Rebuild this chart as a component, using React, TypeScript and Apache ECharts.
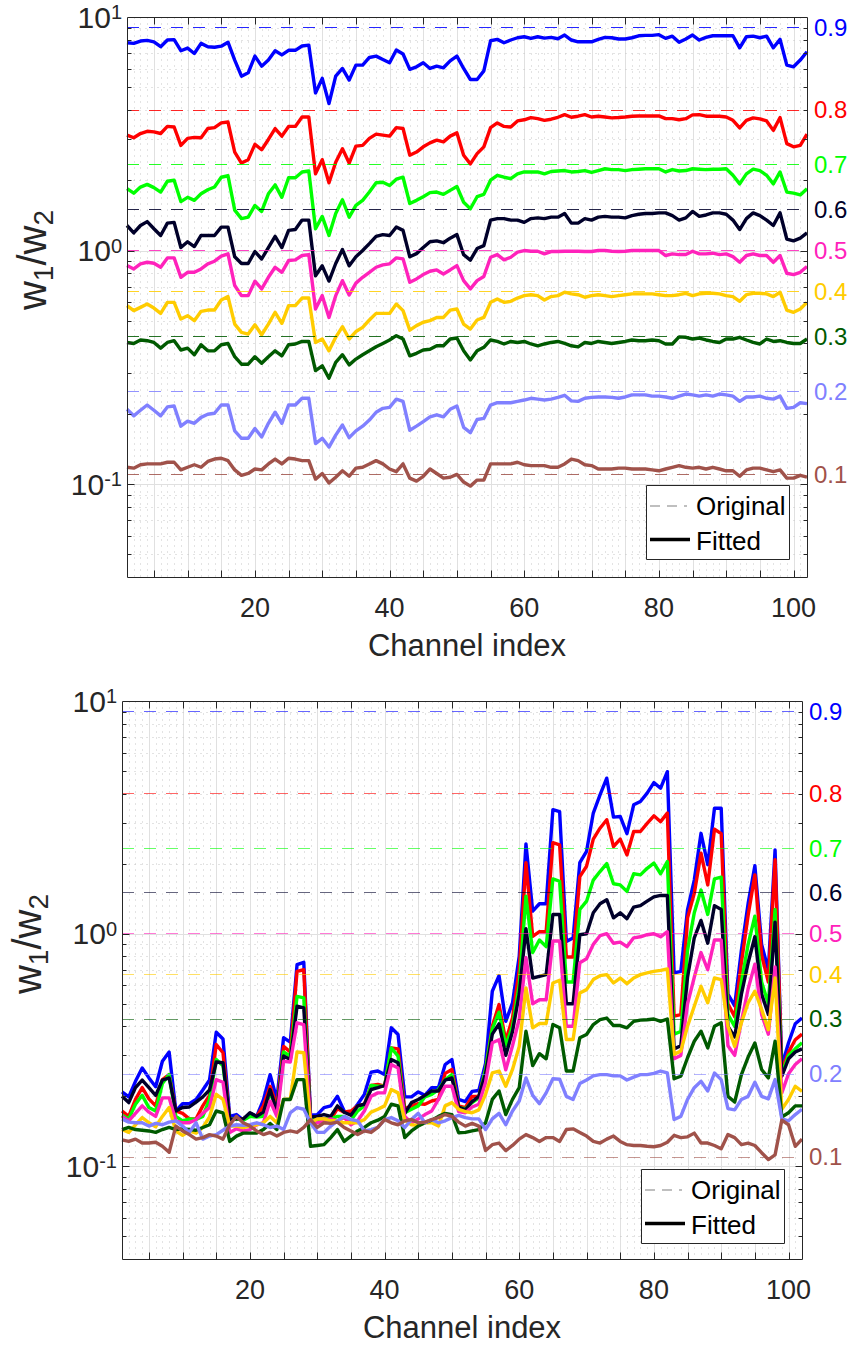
import React, { useEffect, useRef } from 'react';
import * as echarts from 'echarts';

// ---------- categories / ticks ----------
const CHANNELS: number[] = Array.from({ length: 102 }, (_, i) => i + 1);
const X_LABEL_VALUES = [20, 40, 60, 80, 100];
const X_TICKS = [5, 10, 15, 20, 25, 30, 35, 40, 45, 50, 55, 60, 65, 70, 75, 80, 85, 90, 95, 100];
const Y_MAJOR = [0.1, 1];
const Y_MINOR = [0.05, 0.06, 0.07, 0.08, 0.09, 0.2, 0.3, 0.4, 0.5, 0.6, 0.7, 0.8, 0.9, 2, 3, 4, 5, 6, 7, 8, 9];

const P_LABELS = ['0.9', '0.8', '0.7', '0.6', '0.5', '0.4', '0.3', '0.2', '0.1'];
const ORIGINAL_RATIO = [9, 4, 2.3333, 1.5, 1, 0.66667, 0.42857, 0.25, 0.11111];
const SERIES_COLORS = ['#0000ff', '#ff0000', '#00ff00', '#00002a', '#ff22bb', '#ffcc00', '#005a00', '#8080ff', '#a0524a'];

// ---------- top panel fitted values ----------
const top09 = [7.76,7.71,7.89,7.94,7.83,7.46,7.97,8.00,7.17,7.36,6.98,7.71,7.46,7.42,7.50,7.80,6.54,5.58,5.77,6.80,6.16,6.54,7.17,6.88,7.20,7.20,7.51,7.58,4.73,5.46,4.26,5.58,6.02,5.37,6.22,6.22,6.71,6.80,6.58,6.37,7.22,6.94,5.97,6.12,6.37,6.02,6.16,6.06,6.49,6.80,6.02,5.40,5.40,5.88,7.91,8.02,7.76,7.97,8.15,8.23,8.10,8.23,8.12,8.18,8.07,8.37,7.97,7.83,7.83,7.83,8.02,8.18,8.15,8.05,8.05,8.15,8.31,8.34,8.34,8.40,8.10,8.28,7.79,8.05,8.37,7.97,8.18,8.31,8.31,8.31,8.31,7.38,8.23,8.28,8.15,8.28,7.38,8.02,6.22,6.12,6.54,7.10];
const top08 = [3.12,3.04,3.17,3.24,3.22,3.17,3.40,3.38,2.82,3.02,3.05,3.04,3.33,3.36,3.52,3.55,2.64,2.37,2.45,2.85,2.70,2.99,3.33,3.09,3.40,3.40,3.73,3.73,2.13,2.45,1.95,2.39,2.73,2.37,2.80,2.82,3.02,3.15,3.12,3.09,3.36,3.33,2.56,2.64,2.78,2.89,2.97,2.92,3.09,3.19,2.56,2.35,2.60,2.78,3.36,3.52,3.40,3.38,3.59,3.63,3.71,3.67,3.61,3.65,3.72,3.82,3.72,3.76,3.82,3.73,3.76,3.73,3.70,3.71,3.73,3.76,3.77,3.77,3.77,3.77,3.67,3.67,3.63,3.67,3.81,3.82,3.76,3.76,3.76,3.73,3.61,3.35,3.61,3.70,3.66,3.59,3.27,3.71,2.87,2.78,2.82,3.15];
const top07 = [1.84,1.76,1.87,1.92,1.86,1.78,1.98,2.00,1.62,1.69,1.64,1.75,1.82,1.87,2.06,2.09,1.49,1.37,1.39,1.56,1.47,1.75,1.91,1.69,2.05,2.05,2.17,2.19,1.24,1.40,1.16,1.44,1.65,1.39,1.56,1.64,1.78,1.95,1.96,1.90,2.02,2.06,1.59,1.64,1.70,1.77,1.78,1.74,1.81,1.88,1.61,1.51,1.70,1.74,2.00,2.10,2.06,2.03,2.13,2.17,2.17,2.17,2.13,2.18,2.19,2.20,2.17,2.18,2.20,2.16,2.20,2.24,2.22,2.22,2.20,2.22,2.23,2.24,2.24,2.24,2.17,2.22,2.19,2.20,2.24,2.23,2.22,2.23,2.23,2.24,2.10,1.93,2.13,2.23,2.20,2.10,1.93,2.17,1.78,1.76,1.73,1.84];
const top06 = [1.28,1.19,1.28,1.33,1.24,1.16,1.31,1.32,1.03,1.09,1.04,1.16,1.16,1.16,1.26,1.26,0.94,0.88,0.88,0.99,0.92,1.03,1.15,1.03,1.22,1.23,1.35,1.35,0.78,0.86,0.74,0.88,1.01,0.86,0.94,1.00,1.07,1.15,1.17,1.16,1.26,1.22,0.94,0.97,1.03,1.09,1.10,1.08,1.13,1.17,0.96,0.91,1.02,1.05,1.35,1.37,1.37,1.35,1.35,1.32,1.37,1.38,1.37,1.39,1.39,1.44,1.31,1.31,1.37,1.35,1.39,1.40,1.39,1.39,1.38,1.41,1.43,1.44,1.44,1.45,1.45,1.41,1.35,1.38,1.47,1.40,1.42,1.45,1.45,1.43,1.35,1.23,1.37,1.45,1.41,1.35,1.28,1.45,1.12,1.10,1.13,1.19];
const top05 = [0.862,0.834,0.877,0.891,0.882,0.848,0.930,0.930,0.768,0.807,0.807,0.834,0.877,0.900,0.947,0.968,0.708,0.641,0.641,0.739,0.685,0.768,0.848,0.807,0.906,0.912,0.952,0.961,0.562,0.641,0.517,0.641,0.743,0.645,0.725,0.768,0.807,0.848,0.868,0.877,0.930,0.921,0.731,0.756,0.789,0.815,0.826,0.794,0.826,0.862,0.743,0.685,0.743,0.774,0.936,0.961,0.912,0.936,0.984,1.000,0.993,0.993,0.968,0.990,0.990,0.993,0.993,0.993,0.990,0.990,1.000,1.000,0.993,0.990,0.993,1.000,1.000,1.000,1.000,1.000,0.952,0.968,0.961,0.961,0.993,0.968,0.968,0.974,0.961,0.968,0.942,0.891,0.952,0.968,0.952,0.952,0.891,0.952,0.799,0.789,0.807,0.854];
const top04 = [0.581,0.553,0.571,0.590,0.567,0.538,0.600,0.600,0.509,0.526,0.501,0.549,0.556,0.556,0.614,0.635,0.484,0.446,0.439,0.481,0.436,0.484,0.544,0.488,0.581,0.581,0.626,0.626,0.404,0.418,0.372,0.425,0.472,0.418,0.450,0.469,0.504,0.538,0.538,0.538,0.590,0.553,0.456,0.477,0.493,0.501,0.517,0.517,0.556,0.562,0.484,0.461,0.504,0.517,0.600,0.620,0.600,0.606,0.626,0.641,0.647,0.641,0.614,0.635,0.641,0.663,0.652,0.647,0.631,0.641,0.647,0.641,0.635,0.641,0.647,0.652,0.652,0.652,0.652,0.647,0.641,0.641,0.647,0.656,0.641,0.652,0.656,0.656,0.652,0.641,0.635,0.606,0.647,0.656,0.656,0.652,0.635,0.663,0.556,0.544,0.562,0.600];
const top03 = [0.404,0.400,0.414,0.411,0.404,0.382,0.404,0.411,0.375,0.382,0.358,0.395,0.372,0.372,0.395,0.400,0.351,0.326,0.326,0.351,0.329,0.351,0.372,0.354,0.395,0.398,0.408,0.408,0.306,0.321,0.284,0.332,0.358,0.324,0.343,0.358,0.372,0.387,0.400,0.414,0.432,0.418,0.354,0.363,0.375,0.378,0.391,0.391,0.418,0.422,0.372,0.340,0.372,0.385,0.414,0.408,0.398,0.408,0.404,0.408,0.398,0.391,0.398,0.404,0.408,0.400,0.391,0.387,0.404,0.400,0.408,0.404,0.400,0.404,0.408,0.414,0.411,0.411,0.414,0.411,0.398,0.398,0.427,0.425,0.418,0.422,0.414,0.408,0.404,0.418,0.418,0.425,0.414,0.404,0.398,0.418,0.408,0.411,0.404,0.400,0.400,0.418];
const top02 = [0.209,0.196,0.207,0.218,0.207,0.196,0.214,0.216,0.177,0.186,0.182,0.193,0.199,0.201,0.218,0.218,0.169,0.157,0.157,0.173,0.159,0.182,0.203,0.182,0.218,0.218,0.233,0.233,0.149,0.157,0.144,0.162,0.179,0.158,0.169,0.177,0.188,0.203,0.211,0.213,0.231,0.226,0.170,0.177,0.185,0.194,0.198,0.194,0.209,0.216,0.175,0.166,0.189,0.191,0.218,0.223,0.223,0.223,0.226,0.229,0.233,0.231,0.229,0.231,0.235,0.240,0.227,0.226,0.233,0.235,0.236,0.236,0.235,0.233,0.236,0.241,0.241,0.241,0.238,0.238,0.236,0.233,0.238,0.243,0.241,0.238,0.241,0.238,0.243,0.241,0.238,0.226,0.236,0.236,0.238,0.233,0.231,0.238,0.211,0.213,0.223,0.221];
const top01 = [0.118,0.117,0.121,0.122,0.122,0.122,0.124,0.124,0.115,0.118,0.121,0.118,0.125,0.128,0.129,0.126,0.115,0.109,0.111,0.116,0.115,0.122,0.128,0.122,0.129,0.128,0.126,0.126,0.105,0.111,0.101,0.107,0.114,0.108,0.117,0.118,0.122,0.126,0.122,0.116,0.113,0.122,0.106,0.103,0.108,0.116,0.111,0.106,0.107,0.110,0.102,0.098,0.104,0.104,0.122,0.122,0.122,0.122,0.124,0.121,0.120,0.120,0.120,0.118,0.118,0.122,0.128,0.126,0.121,0.120,0.116,0.116,0.116,0.117,0.117,0.116,0.116,0.116,0.115,0.114,0.116,0.118,0.120,0.118,0.117,0.118,0.116,0.118,0.116,0.114,0.114,0.108,0.115,0.117,0.117,0.115,0.113,0.115,0.106,0.106,0.109,0.107];

// ---------- bottom panel fitted values ----------
const bot09 = [0.209,0.199,0.232,0.265,0.240,0.220,0.283,0.310,0.173,0.186,0.186,0.194,0.213,0.235,0.377,0.353,0.164,0.167,0.158,0.169,0.164,0.193,0.248,0.194,0.357,0.342,0.736,0.753,0.166,0.167,0.179,0.182,0.200,0.173,0.169,0.185,0.204,0.254,0.257,0.248,0.394,0.369,0.199,0.199,0.209,0.202,0.218,0.218,0.274,0.288,0.194,0.190,0.210,0.212,0.277,0.566,0.660,0.420,0.504,0.800,2.43,1.25,1.345,1.345,3.41,3.35,0.927,0.958,2.02,2.26,3.30,3.95,4.66,3.17,3.19,2.69,3.58,3.70,4.02,4.46,4.22,4.97,0.678,0.689,1.27,1.70,2.70,1.98,3.46,3.46,0.55,0.49,0.85,1.35,1.96,0.90,0.70,2.29,0.27,0.34,0.41,0.434];
const bot08 = [0.173,0.164,0.194,0.218,0.195,0.182,0.236,0.248,0.173,0.169,0.160,0.160,0.182,0.202,0.334,0.308,0.159,0.160,0.160,0.166,0.164,0.182,0.221,0.182,0.328,0.310,0.689,0.700,0.160,0.159,0.160,0.159,0.177,0.171,0.173,0.182,0.185,0.223,0.225,0.221,0.323,0.320,0.177,0.182,0.186,0.185,0.191,0.194,0.251,0.261,0.182,0.179,0.200,0.200,0.261,0.400,0.496,0.346,0.434,0.70,2.02,0.974,1.02,1.02,2.46,2.41,0.794,0.794,1.76,1.95,2.55,2.84,3.09,2.37,2.55,2.18,2.75,2.75,2.98,3.21,3.03,3.30,0.442,0.449,1.17,1.49,2.22,1.62,2.81,2.69,0.50,0.44,0.75,1.20,1.79,0.81,0.62,2.08,0.257,0.31,0.35,0.37];
const bot07 = [0.166,0.160,0.185,0.202,0.179,0.173,0.227,0.248,0.164,0.157,0.160,0.159,0.164,0.194,0.288,0.271,0.159,0.160,0.158,0.164,0.163,0.164,0.209,0.173,0.310,0.298,0.538,0.530,0.159,0.158,0.159,0.160,0.164,0.164,0.158,0.173,0.182,0.223,0.221,0.221,0.323,0.298,0.170,0.176,0.182,0.199,0.204,0.214,0.236,0.248,0.179,0.177,0.188,0.197,0.261,0.39,0.46,0.33,0.40,0.60,1.45,0.83,0.94,0.88,1.72,1.68,0.62,0.62,1.27,1.38,1.70,1.85,2.00,1.64,1.62,1.52,1.81,1.79,1.91,2.01,1.81,2.04,0.37,0.38,0.85,1.23,1.54,1.21,1.72,1.75,0.45,0.40,0.62,0.90,1.19,0.62,0.50,1.27,0.248,0.30,0.32,0.34];
const bot06 = [0.200,0.188,0.218,0.235,0.218,0.202,0.235,0.240,0.173,0.179,0.180,0.189,0.199,0.213,0.281,0.279,0.159,0.160,0.160,0.170,0.164,0.171,0.214,0.173,0.298,0.288,0.488,0.480,0.163,0.164,0.167,0.164,0.182,0.171,0.166,0.182,0.185,0.214,0.218,0.223,0.288,0.279,0.169,0.188,0.194,0.202,0.211,0.211,0.235,0.240,0.180,0.175,0.190,0.200,0.250,0.370,0.410,0.300,0.380,0.550,1.05,0.645,0.656,0.667,1.21,1.21,0.50,0.50,0.99,1.00,1.23,1.345,1.40,1.17,1.23,1.16,1.30,1.32,1.38,1.44,1.46,1.46,0.32,0.33,0.65,0.96,1.14,0.91,1.32,1.27,0.40,0.36,0.55,0.75,0.97,0.55,0.45,1.12,0.244,0.29,0.31,0.32];
const bot05 = [0.164,0.157,0.169,0.182,0.171,0.164,0.197,0.197,0.157,0.154,0.154,0.159,0.169,0.179,0.236,0.230,0.140,0.145,0.142,0.144,0.151,0.154,0.191,0.164,0.283,0.281,0.414,0.407,0.159,0.154,0.157,0.160,0.157,0.162,0.151,0.157,0.173,0.200,0.207,0.207,0.274,0.265,0.164,0.154,0.160,0.167,0.173,0.194,0.221,0.221,0.172,0.170,0.180,0.185,0.230,0.340,0.350,0.260,0.330,0.430,0.79,0.50,0.52,0.52,0.93,0.93,0.40,0.40,0.75,0.78,0.90,0.98,1.00,0.91,0.92,0.88,0.96,0.97,0.99,1.00,0.97,1.02,0.29,0.30,0.50,0.65,0.83,0.70,0.94,0.94,0.33,0.30,0.42,0.58,0.74,0.45,0.37,0.72,0.207,0.25,0.274,0.29];
const bot04 = [0.144,0.140,0.151,0.162,0.154,0.148,0.164,0.179,0.142,0.136,0.142,0.139,0.147,0.163,0.204,0.194,0.149,0.149,0.147,0.149,0.151,0.154,0.164,0.154,0.194,0.195,0.310,0.308,0.154,0.160,0.160,0.157,0.157,0.154,0.154,0.154,0.159,0.171,0.176,0.182,0.214,0.207,0.158,0.151,0.150,0.154,0.154,0.149,0.182,0.188,0.176,0.172,0.170,0.175,0.204,0.252,0.257,0.221,0.261,0.328,0.585,0.394,0.411,0.411,0.614,0.631,0.351,0.351,0.556,0.575,0.635,0.660,0.667,0.614,0.645,0.610,0.645,0.667,0.678,0.689,0.696,0.705,0.303,0.313,0.400,0.488,0.594,0.505,0.645,0.635,0.400,0.328,0.414,0.505,0.566,0.473,0.387,0.645,0.176,0.194,0.221,0.210];
const bot03 = [0.144,0.147,0.144,0.143,0.142,0.140,0.144,0.147,0.144,0.145,0.144,0.143,0.147,0.151,0.173,0.170,0.128,0.135,0.139,0.139,0.139,0.144,0.153,0.144,0.194,0.194,0.236,0.236,0.122,0.123,0.124,0.133,0.144,0.128,0.135,0.142,0.147,0.154,0.158,0.164,0.185,0.182,0.133,0.142,0.149,0.154,0.158,0.164,0.169,0.167,0.1395,0.140,0.142,0.144,0.154,0.194,0.211,0.167,0.194,0.218,0.381,0.271,0.305,0.290,0.407,0.394,0.257,0.257,0.357,0.369,0.407,0.427,0.434,0.403,0.403,0.394,0.420,0.425,0.427,0.430,0.420,0.430,0.238,0.244,0.293,0.345,0.381,0.323,0.400,0.414,0.200,0.189,0.248,0.295,0.339,0.261,0.240,0.345,0.163,0.170,0.182,0.182];
const bot02 = [0.160,0.155,0.154,0.154,0.149,0.153,0.151,0.155,0.157,0.149,0.140,0.154,0.131,0.135,0.137,0.143,0.149,0.151,0.150,0.151,0.154,0.151,0.147,0.149,0.144,0.170,0.179,0.176,0.154,0.140,0.140,0.149,0.157,0.164,0.159,0.157,0.142,0.144,0.147,0.159,0.162,0.157,0.147,0.159,0.169,0.154,0.159,0.154,0.157,0.162,0.1655,0.162,0.160,0.160,0.144,0.160,0.169,0.151,0.173,0.191,0.240,0.202,0.186,0.207,0.238,0.237,0.200,0.194,0.227,0.235,0.245,0.248,0.248,0.245,0.245,0.235,0.242,0.248,0.248,0.251,0.257,0.252,0.159,0.164,0.194,0.218,0.232,0.211,0.252,0.236,0.177,0.175,0.194,0.200,0.230,0.200,0.195,0.236,0.160,0.157,0.167,0.176];
const bot01 = [0.130,0.128,0.131,0.126,0.126,0.127,0.122,0.115,0.149,0.142,0.137,0.131,0.133,0.137,0.135,0.131,0.151,0.164,0.154,0.149,0.142,0.137,0.140,0.135,0.140,0.142,0.140,0.147,0.159,0.147,0.154,0.153,0.155,0.147,0.142,0.137,0.142,0.140,0.147,0.159,0.154,0.151,0.157,0.159,0.154,0.155,0.159,0.162,0.167,0.164,0.155,0.149,0.153,0.149,0.117,0.124,0.126,0.117,0.123,0.131,0.137,0.133,0.128,0.133,0.133,0.128,0.144,0.145,0.140,0.135,0.128,0.126,0.131,0.135,0.128,0.124,0.123,0.123,0.122,0.1215,0.123,0.127,0.136,0.133,0.134,0.139,0.126,0.126,0.123,0.119,0.137,0.133,0.124,0.126,0.123,0.1145,0.107,0.112,0.158,0.151,0.122,0.131];

const TOP_SERIES = [top09, top08, top07, top06, top05, top04, top03, top02, top01];
const BOTTOM_SERIES = [bot09, bot08, bot07, bot06, bot05, bot04, bot03, bot02, bot01];

// ---------- layout / style ----------
const FONT = '"Liberation Sans", Arial, Helvetica, sans-serif';
const AXIS_COLOR = '#262626';
const PANELS = [
  { left: 127, top: 17, width: 680, height: 560, data: TOP_SERIES, dashOpacity: 0.85 },
  { left: 122, top: 701, width: 680, height: 558, data: BOTTOM_SERIES, dashOpacity: 0.6 },
];

function withAlpha(hex: string, a: number) {
  const r = parseInt(hex.slice(1, 3), 16);
  const g = parseInt(hex.slice(3, 5), 16);
  const b = parseInt(hex.slice(5, 7), 16);
  return `rgba(${r},${g},${b},${a})`;
}

function decorItems(kind: 'grid' | 'ticks') {
  const items: number[][] = [];
  if (kind === 'grid') {
    for (let x = 2; x <= 101; x++) items.push([x, 1, x % 5 === 0 ? 0 : 1]);
    Y_MAJOR.forEach((v) => items.push([1, v, 2]));
    Y_MINOR.forEach((v) => items.push([1, v, 3]));
  } else {
    X_TICKS.forEach((x) => items.push([x, 1, 4]));
    Y_MAJOR.forEach((v) => items.push([1, v, 5]));
    Y_MINOR.forEach((v) => items.push([1, v, 6]));
    items.push([1, 1, 7]);
  }
  return items;
}

const renderDecor = (params: any, api: any) => {
  const cs = params.coordSys;
  const L = Math.round(cs.x) + 0.5;
  const T = Math.round(cs.y) + 0.5;
  const R = Math.round(cs.x + cs.width) + 0.5;
  const B = Math.round(cs.y + cs.height) + 0.5;
  const kind = api.value(2);
  const sx = () => Math.round(api.coord([api.value(0), 1])[0]) + 0.5;
  const sy = () => Math.round(api.coord([1, api.value(1)])[1]) + 0.5;
  const major = { stroke: '#e0e0e0', lineWidth: 1 };
  const minor = { stroke: '#c6c6c6', lineWidth: 1, lineDash: [1, 5] };
  const tick = { stroke: AXIS_COLOR, lineWidth: 1 };
  const ln = (x1: number, y1: number, x2: number, y2: number, style: any) => ({
    type: 'line', shape: { x1, y1, x2, y2 }, style,
  });
  if (kind === 0) { const x = sx(); return ln(x, T, x, B, major); }
  if (kind === 1) { const x = sx(); return ln(x, T, x, B, minor); }
  if (kind === 2) { const y = sy(); return ln(L, y, R, y, major); }
  if (kind === 3) { const y = sy(); return ln(L, y, R, y, minor); }
  if (kind === 4) {
    const x = sx();
    return { type: 'group', children: [ln(x, B, x, B - 7, tick), ln(x, T, x, T + 7, tick)] };
  }
  if (kind === 5 || kind === 6) {
    const y = sy();
    const len = kind === 5 ? 7 : 4;
    return { type: 'group', children: [ln(L, y, L + len, y, tick), ln(R, y, R - len, y, tick)] };
  }
  return { type: 'rect', shape: { x: L, y: T, width: R - L, height: B - T }, style: { fill: 'none', stroke: AXIS_COLOR, lineWidth: 1 } };
};

const yLabelFormatter = (v: number) => {
  const e = Math.log10(v);
  const r = Math.round(e);
  if (Math.abs(e - r) > 1e-6) return '';
  return `{b|10}{s|${r}}`;
};

function buildOption() {
  const grid: any[] = [];
  const xAxis: any[] = [];
  const yAxis: any[] = [];
  const series: any[] = [];
  const graphic: any[] = [];

  PANELS.forEach((p, pi) => {
    grid.push({ left: p.left, top: p.top, width: p.width, height: p.height, show: false, containLabel: false });
    xAxis.push({
      type: 'value', gridIndex: pi, min: 1, max: 102,
      axisLine: { show: false }, axisTick: { show: false }, splitLine: { show: false }, minorTick: { show: false },
      axisLabel: {
        formatter: (v: number) => (X_LABEL_VALUES.indexOf(v) >= 0 ? String(v) : ''),
        color: AXIS_COLOR, fontSize: 27, fontFamily: FONT, margin: 17,
      },
    });
    yAxis.push({
      type: 'log', logBase: 10, gridIndex: pi, min: 0.04, max: 10,
      axisLine: { show: false }, axisTick: { show: false }, splitLine: { show: false }, minorTick: { show: false },
      axisLabel: {
        formatter: yLabelFormatter, margin: 5, color: AXIS_COLOR,
        rich: {
          b: { fontSize: 30, lineHeight: 30, verticalAlign: 'bottom', fontFamily: FONT, color: AXIS_COLOR },
          s: { fontSize: 20, lineHeight: 20, padding: [0, 0, 19, 0], verticalAlign: 'top', fontFamily: FONT, color: AXIS_COLOR },
        },
      },
    });

    series.push({
      type: 'custom', name: 'grid' + pi, xAxisIndex: pi, yAxisIndex: pi, silent: true, z: 1,
      renderItem: renderDecor, data: decorItems('grid'),
    });

    p.data.forEach((arr, si) => {
      const color = SERIES_COLORS[si];
      series.push({
        type: 'line', name: 'p=' + P_LABELS[si], xAxisIndex: pi, yAxisIndex: pi,
        data: CHANNELS.map((c, k) => [c, arr[k]]),
        showSymbol: false, symbol: 'none', z: 2 + si * 0.01,
        color, itemStyle: { color },
        lineStyle: { color, width: 3.4, join: 'round' },
        emphasis: { disabled: true },
        markLine: {
          silent: true, symbol: 'none', animation: false,
          data: [{ yAxis: ORIGINAL_RATIO[si] }],
          lineStyle: { type: [12, 10], width: 1.2, color: withAlpha(color, p.dashOpacity), opacity: 1 },
          emphasis: { disabled: true },
          label: {
            show: true, position: 'end', formatter: P_LABELS[si], color, opacity: 1,
            fontSize: 24, fontFamily: FONT, distance: 7,
          },
        },
      });
    });

    series.push({
      type: 'custom', name: 'ticks' + pi, xAxisIndex: pi, yAxisIndex: pi, silent: true, z: 5,
      renderItem: renderDecor, data: decorItems('ticks'),
    });

    // axis titles
    graphic.push({
      type: 'text', x: p.left + p.width / 2, y: p.top + p.height + 68, z: 100,
      style: { text: 'Channel index', fontSize: 31, fontFamily: FONT, fill: AXIS_COLOR, align: 'center', verticalAlign: 'middle' },
    });
    graphic.push({
      type: 'text', x: p.left - 95, y: p.top + 243, rotation: Math.PI / 2, z: 100,
      style: {
        text: '{w|w}{s|1}{w|/w}{s|2}', align: 'center', verticalAlign: 'middle', fill: AXIS_COLOR,
        rich: {
          w: { fontSize: 40, lineHeight: 40, verticalAlign: 'top', fontFamily: FONT, fill: AXIS_COLOR },
          s: { fontSize: 28, lineHeight: 28, padding: [17, 0, 0, 0], verticalAlign: 'top', fontFamily: FONT, fill: AXIS_COLOR },
        },
      },
    });

    // legend box
    const lx = p.left + 519;
    const ly = p.top + 468;
    graphic.push({
      type: 'group', z: 100,
      children: [
        { type: 'rect', z: 100, shape: { x: lx + 0.5, y: ly + 0.5, width: 143, height: 74 }, style: { fill: '#ffffff', stroke: AXIS_COLOR, lineWidth: 1 } },
        { type: 'line', z: 101, shape: { x1: lx + 4, y1: ly + 21, x2: lx + 41, y2: ly + 21 }, style: { stroke: '#808080', lineWidth: 1.2, lineDash: [10, 7] } },
        { type: 'text', z: 101, x: lx + 50, y: ly + 21, style: { text: 'Original', fontSize: 26, fontFamily: FONT, fill: '#000000', align: 'left', verticalAlign: 'middle' } },
        { type: 'line', z: 101, shape: { x1: lx + 4, y1: ly + 54.5, x2: lx + 44, y2: ly + 54.5 }, style: { stroke: '#000000', lineWidth: 3.4 } },
        { type: 'text', z: 101, x: lx + 50, y: ly + 56, style: { text: 'Fitted', fontSize: 26, fontFamily: FONT, fill: '#000000', align: 'left', verticalAlign: 'middle' } },
      ],
    });
  });

  return {
    animation: false,
    backgroundColor: '#ffffff',
    textStyle: { fontFamily: FONT },
    grid, xAxis, yAxis, series, graphic,
  };
}

export default function App() {
  const ref = useRef<HTMLDivElement>(null);
  useEffect(() => {
    if (!ref.current) return;
    const chart = echarts.init(ref.current, undefined, { renderer: 'svg' });
    chart.setOption(buildOption() as any);
    return () => chart.dispose();
  }, []);
  return (
    <div
      ref={ref}
      style={{ position: 'absolute', left: 0, top: 0, width: 851, height: 1347, background: '#ffffff' }}
    />
  );
}
